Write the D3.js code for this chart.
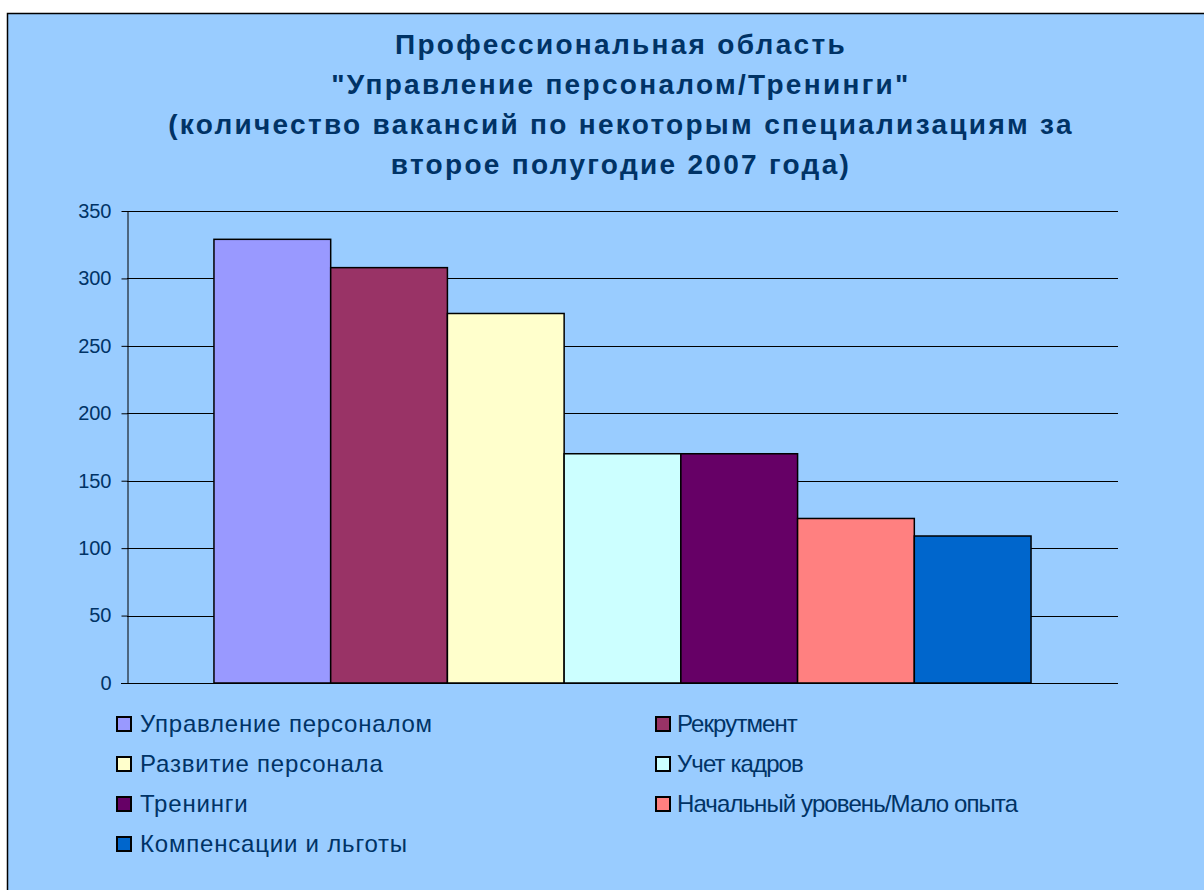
<!DOCTYPE html>
<html>
<head>
<meta charset="utf-8">
<script src="https://cdn.jsdelivr.net/npm/d3@7"></script>
<style>
  body { margin: 0; background: #fff; }
  svg text { font-family: "Liberation Sans", Arial, sans-serif; fill: #003366; }
</style>
</head>
<body>
<svg id="chart"></svg>
<script>
// chart data
const categories = [
    "Управление персоналом",
    "Рекрутмент",
    "Развитие персонала",
    "Учет кадров",
    "Тренинги",
    "Начальный уровень/Мало опыта",
    "Компенсации и льготы"
];
const values = [329, 308, 274, 170, 170, 122, 109];
const colors = ["#9999FF", "#993366", "#FFFFCC", "#CCFFFF", "#660066", "#FF8080", "#0066CC"];
const yTicks = [0, 50, 100, 150, 200, 250, 300, 350];
const titleLines = [
    "Профессиональная область",
    "\"Управление персоналом/Тренинги\"",
    "(количество вакансий по некоторым специализациям за",
    "второе полугодие 2007 года)"
];

const width = 1204, height = 890;
const svg = d3.select("#chart").attr("width", width).attr("height", height);

// chart area background with frame
svg.append("rect")
    .attr("x", 7.5).attr("y", 13.5)
    .attr("width", width).attr("height", height)
    .attr("fill", "#99CCFF")
    .attr("stroke", "#000").attr("stroke-width", 1.5);

// title
svg.append("g").selectAll("text")
    .data(titleLines)
    .enter().append("text")
    .attr("x", 621)
    .attr("y", (d, i) => 54 + i * 40)
    .attr("text-anchor", "middle")
    .attr("font-size", 28)
    .attr("font-weight", "bold")
    .attr("letter-spacing", 2.3)
    .text(d => d);

// plot
const plot = { left: 127, right: 1118, top: 211, bottom: 683 };

const y = d3.scaleLinear().domain([0, 350]).range([plot.bottom, plot.top]);
const x = d3.scaleBand()
    .domain(categories)
    .range([plot.left, plot.right])
    .paddingInner(0)
    .paddingOuter(0.745);

// gridlines
svg.append("g").selectAll("line")
    .data(yTicks.filter(d => d > 0))
    .enter().append("line")
    .attr("x1", plot.left).attr("x2", plot.right)
    .attr("y1", d => Math.round(y(d)) + 0.5).attr("y2", d => Math.round(y(d)) + 0.5)
    .attr("stroke", "#000").attr("stroke-width", 1);

// y axis
const yAxis = svg.append("g")
    .attr("transform", `translate(${plot.left + 0.5},0)`)
    .call(d3.axisLeft(y).tickValues(yTicks).tickSize(6).tickPadding(10).tickSizeOuter(0));
yAxis.select(".domain").attr("stroke", "#000");
yAxis.selectAll(".tick line").attr("stroke", "#000");
yAxis.selectAll(".tick text")
    .attr("font-size", 20)
    .attr("fill", "#003366")
    .style("font-family", "'Liberation Sans', Arial, sans-serif");

// bars
svg.append("g").selectAll("rect")
    .data(values)
    .enter().append("rect")
    .attr("x", (d, i) => x(categories[i]))
    .attr("y", d => y(d))
    .attr("width", x.bandwidth())
    .attr("height", d => y(0) - y(d))
    .attr("fill", (d, i) => colors[i])
    .attr("stroke", "#000")
    .attr("stroke-width", 1.5);

// x axis line
svg.append("line")
    .attr("x1", plot.left - 6).attr("x2", plot.right)
    .attr("y1", plot.bottom + 0.5).attr("y2", plot.bottom + 0.5)
    .attr("stroke", "#000");

// legend (two columns, row by row)
const legend = svg.append("g").selectAll("g")
    .data(categories)
    .enter().append("g")
    .attr("transform", (d, i) => `translate(${i % 2 === 0 ? 117 : 656},${724 + Math.floor(i / 2) * 40})`);

legend.append("rect")
    .attr("x", 0).attr("y", -7)
    .attr("width", 14).attr("height", 14)
    .attr("fill", (d, i) => colors[i])
    .attr("stroke", "#000").attr("stroke-width", 2);

legend.append("text")
    .attr("x", (d, i) => i % 2 === 0 ? 23 : 21)
    .attr("y", 0)
    .attr("dy", "0.35em")
    .attr("font-size", 24)
    .attr("letter-spacing", (d, i) => i % 2 === 0 ? 0.8 : -0.9)
    .text(d => d);
</script>
</body>
</html>
